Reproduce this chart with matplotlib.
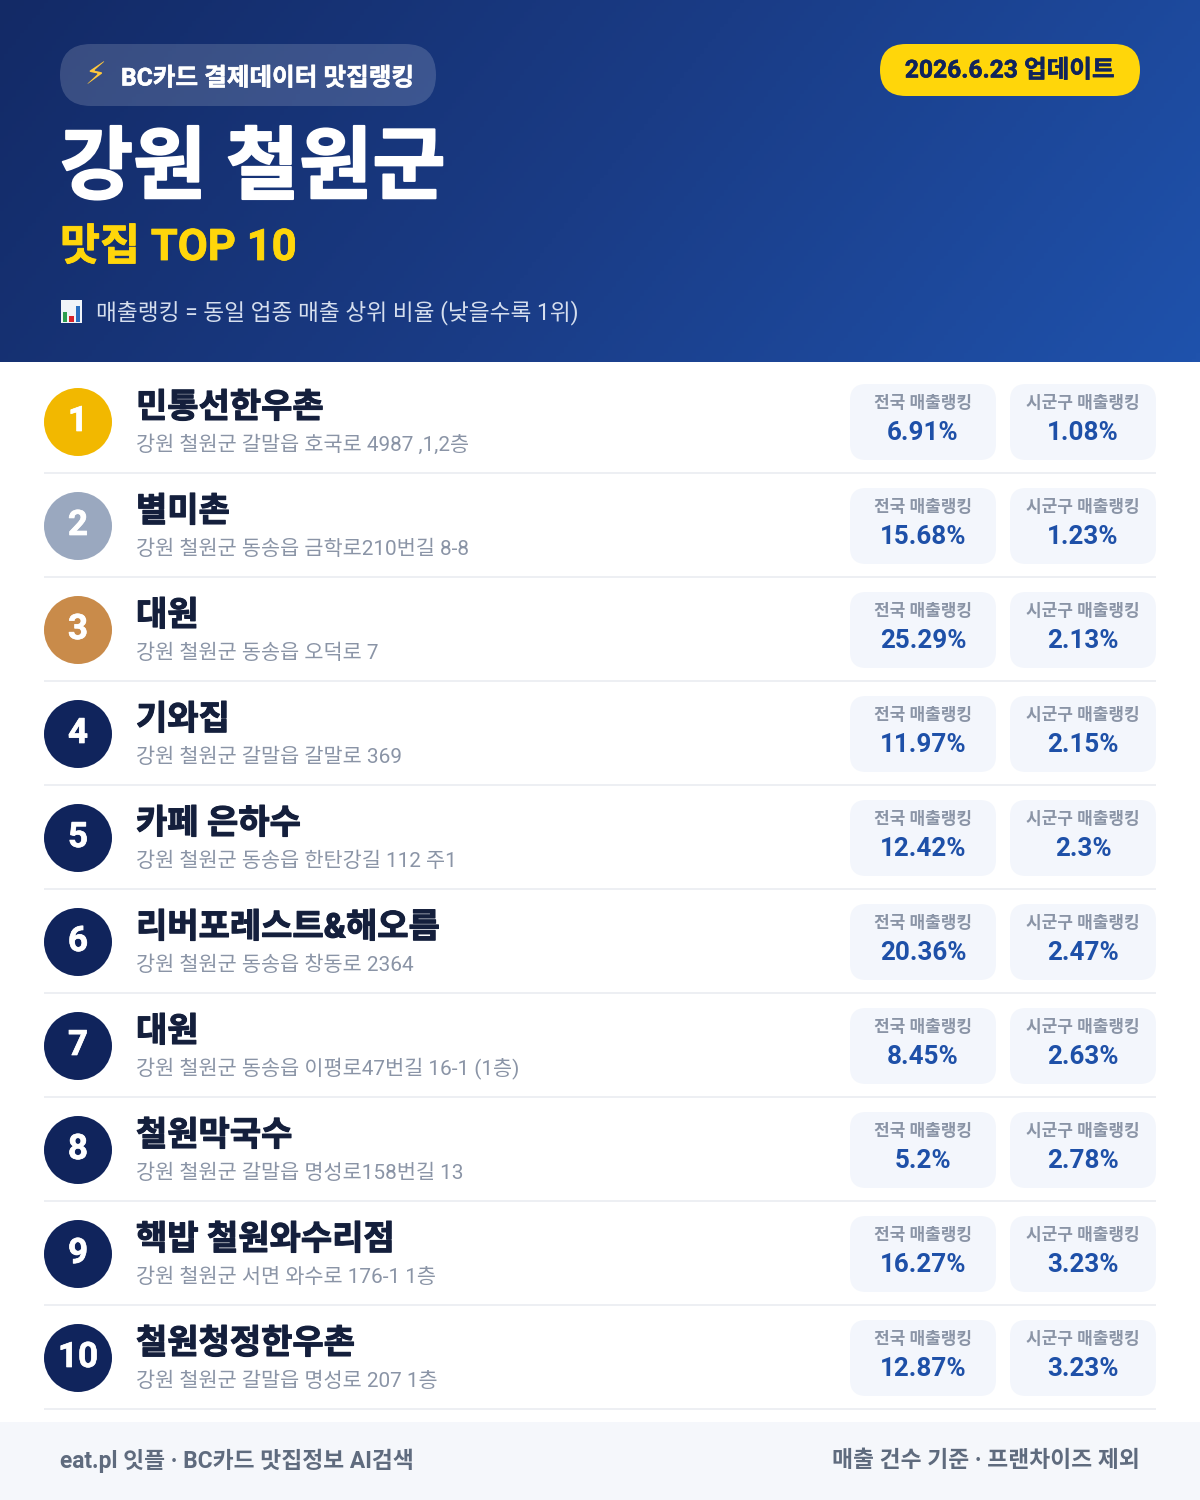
import numpy as np
import matplotlib
matplotlib.use("Agg")
import matplotlib.pyplot as plt
import matplotlib.patheffects as pe
from matplotlib.patches import FancyBboxPatch, Circle, Rectangle
from matplotlib.colors import LinearSegmentedColormap

FONT = ['Roboto', 'Noto Sans CJK KR', 'DejaVu Sans']
plt.rcParams['font.family'] = FONT

badge_text = "BC카드 결제데이터 맛집랭킹"
update_text = "2026.6.23 업데이트"
title_text = "강원 철원군"
subtitle_text = "맛집 TOP 10"
note_text = "매출랭킹 = 동일 업종 매출 상위 비율 (낮을수록 1위)"
footer_left = "eat.pl 잇플 · BC카드 맛집정보 AI검색"
footer_right = "매출 건수 기준 · 프랜차이즈 제외"
label_national = "전국 매출랭킹"
label_district = "시군구 매출랭킹"

ranks = [1, 2, 3, 4, 5, 6, 7, 8, 9, 10]
names = ["민통선한우촌", "별미촌", "대원", "기와집", "카페 은하수",
         "리버포레스트&해오름", "대원", "철원막국수", "핵밥 철원와수리점", "철원청정한우촌"]
addresses = ["강원 철원군 갈말읍 호국로 4987 ,1,2층",
             "강원 철원군 동송읍 금학로210번길 8-8",
             "강원 철원군 동송읍 오덕로 7",
             "강원 철원군 갈말읍 갈말로 369",
             "강원 철원군 동송읍 한탄강길 112 주1",
             "강원 철원군 동송읍 창동로 2364",
             "강원 철원군 동송읍 이평로47번길 16-1 (1층)",
             "강원 철원군 갈말읍 명성로158번길 13",
             "강원 철원군 서면 와수로 176-1 1층",
             "강원 철원군 갈말읍 명성로 207 1층"]
national = [6.91, 15.68, 25.29, 11.97, 12.42, 20.36, 8.45, 5.2, 16.27, 12.87]
district = [1.08, 1.23, 2.13, 2.15, 2.3, 2.47, 2.63, 2.78, 3.23, 3.23]
circle_colors = ["#F2B800", "#9AA8BF", "#C98B4A"] + ["#10245C"] * 7

W, H = 1200, 1500
fig = plt.figure(figsize=(12, 15), dpi=100, facecolor="white")
ax = fig.add_axes([0, 0, 1, 1])
ax.set_xlim(0, W)
ax.set_ylim(H, 0)
ax.axis("off")


def px(size):
    return size * 0.72


def text(x, y, s, size, color, weight="normal", ha="left", heavy=0.0, **kw):
    t = ax.text(x, y, s, fontsize=px(size), color=color, fontweight=weight,
                ha=ha, va="center_baseline", **kw)
    if heavy:
        t.set_path_effects([pe.withStroke(linewidth=heavy, foreground=color)])
    return t


def pill(x0, y0, x1, y1, r, color, alpha=1.0):
    ax.add_patch(FancyBboxPatch((x0 + r, y0 + r), x1 - x0 - 2 * r, y1 - y0 - 2 * r,
                                boxstyle=f"round,pad={r},rounding_size={r}",
                                fc=color, ec="none", alpha=alpha, zorder=2))


# Header gradient
hh = 362
xx, yy = np.meshgrid(np.linspace(0, 1, 300), np.linspace(0, 1, 120))
grad = (xx * W * 0.78 + yy * hh * 0.62)
grad = grad / grad.max()
cmap = LinearSegmentedColormap.from_list("hdr", ["#132A66", "#1A3C86", "#1F52AC"])
ax.imshow(grad, extent=(0, W, hh, 0), cmap=cmap, aspect="auto", zorder=1, vmin=0, vmax=1)
ax.set_xlim(0, W)
ax.set_ylim(H, 0)

# Badge
pill(60, 44, 436, 106, 31, "#FFFFFF", alpha=0.16)
ax.text(95, 76, "\u26a1", fontsize=px(31), color="#FFC83D", ha="center", va="center",
        family="DejaVu Sans", zorder=3)
text(121, 76, badge_text, 24.6, "white", "bold", zorder=3, heavy=0.4)

# Update badge
pill(880, 44, 1140, 96, 26, "#FFD60A")
text(1010, 68, update_text, 24.6, "#10245C", "bold", ha="center", zorder=3, heavy=0.4)

# Titles
text(60, 163, title_text, 79.5, "white", "bold", zorder=3, heavy=1.4)
text(60, 244, subtitle_text, 43.5, "#FFD60A", "bold", zorder=3, heavy=0.6)

# Bar-chart icon
ax.add_patch(Rectangle((61, 300), 21, 23, fc="#F1F4F8", ec="none", zorder=3))
ax.add_patch(Rectangle((63, 312), 4, 10, fc="#2E9E4F", ec="none", zorder=4))
ax.add_patch(Rectangle((69, 316), 5, 6, fc="#D8232A", ec="none", zorder=4))
ax.add_patch(Rectangle((76, 306), 4, 16, fc="#2A6FC0", ec="none", zorder=4))
text(96, 310, note_text, 22.7, "#D5DEEE", zorder=3)

# Rows
row_h = 104
for i in range(len(ranks)):
    top = 368 + i * row_h
    ax.add_patch(Circle((78, top + 54), 34, fc=circle_colors[i], ec="none", zorder=2))
    text(78, top + 50, str(ranks[i]), 35, "white", "bold", ha="center", zorder=3, heavy=0.5)
    text(136, top + 37, names[i], 34, "#141F3C", "bold", zorder=3, heavy=0.8)
    text(136, top + 75, addresses[i], 20.8, "#8A94A6", zorder=3)
    for x0, x1, lab, val in ((850, 996, label_national, national[i]),
                             (1010, 1156, label_district, district[i])):
        pill(x0, top + 16, x1, top + 92, 16, "#F3F6FC")
        xc = (x0 + x1) / 2
        text(xc, top + 33, lab, 17, "#8A94A6", "bold", ha="center", zorder=3)
        text(xc, top + 63, f"{val:g}%", 26, "#1E50A8", "bold", ha="center", zorder=3)
    ax.add_patch(Rectangle((44, top + 104), 1112, 2, fc="#EDEFF3", ec="none", zorder=2))

# Footer
ax.add_patch(Rectangle((0, 1422), W, 78, fc="#F5F7FB", ec="none", zorder=1))
text(60, 1458, footer_left, 22.8, "#5F6B7E", "bold", zorder=3)
text(1140, 1458, footer_right, 22.8, "#5F6B7E", "bold", ha="right", zorder=3)

fig.savefig("out.png", dpi=100, facecolor="white")
